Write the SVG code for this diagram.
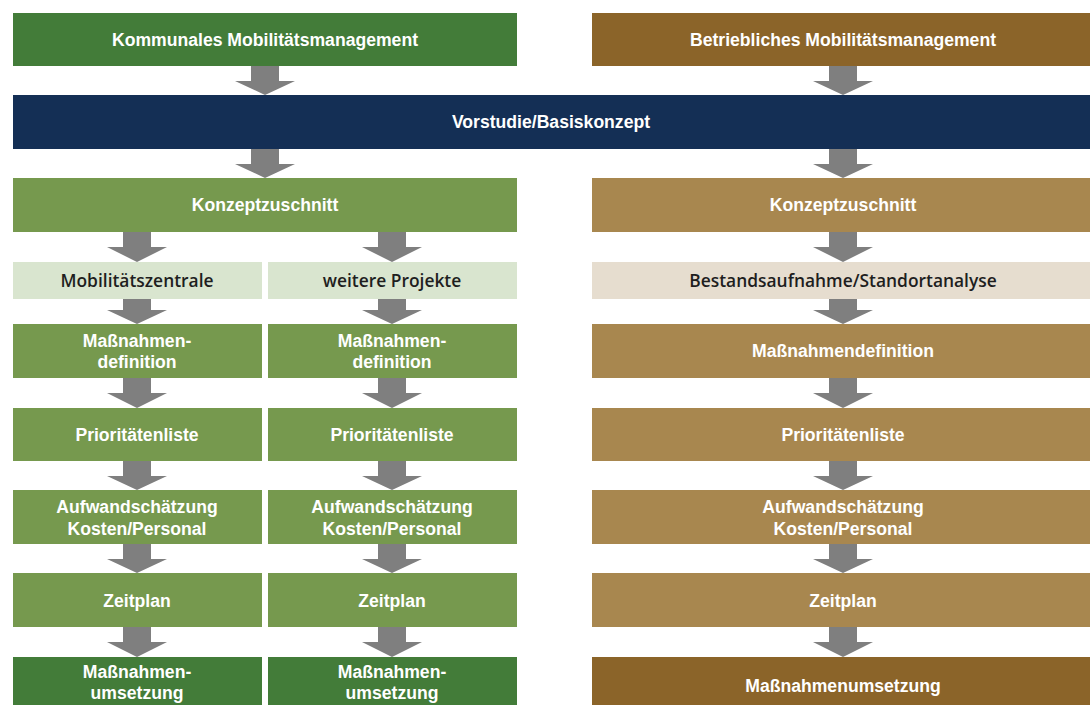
<svg xmlns="http://www.w3.org/2000/svg" width="1090" height="705" viewBox="0 0 1090 705">
<style>
text{font-family:"Liberation Sans","Open Sans",Arial,sans-serif;font-size:17.6px;text-anchor:middle}
.w{fill:#ffffff;font-weight:bold}
.d{fill:#1e1e1e;font-family:"Open Sans","Liberation Sans",Arial,sans-serif;font-weight:600;font-size:17.4px}
.gD{fill:#437c39}
.gM{fill:#76994e}
.gL{fill:#d9e5cf}
.nv{fill:#142f55}
.bD{fill:#8b6429}
.bM{fill:#a8874f}
.bL{fill:#e6ddcf}
.ar{fill:#7f7f7f}
</style>
<rect width="1090" height="705" fill="#ffffff"/>
<g id="connectors">
<path class="ar" d="M251,66h28v15h16l-30,14l-30,-14h16z"/>
<path class="ar" d="M829,66h28v15h16l-30,14l-30,-14h16z"/>
<path class="ar" d="M251,149h28v15h16l-30,14l-30,-14h16z"/>
<path class="ar" d="M829,149h28v15h16l-30,14l-30,-14h16z"/>
<path class="ar" d="M123,232h28v15h16l-30,15l-30,-15h16z"/>
<path class="ar" d="M378,232h28v15h16l-30,15l-30,-15h16z"/>
<path class="ar" d="M829,232h28v15h16l-30,15l-30,-15h16z"/>
<path class="ar" d="M123,299h28v11h16l-30,14l-30,-14h16z"/>
<path class="ar" d="M378,299h28v11h16l-30,14l-30,-14h16z"/>
<path class="ar" d="M829,299h28v11h16l-30,14l-30,-14h16z"/>
<path class="ar" d="M123,378h28v15h16l-30,15l-30,-15h16z"/>
<path class="ar" d="M378,378h28v15h16l-30,15l-30,-15h16z"/>
<path class="ar" d="M829,378h28v15h16l-30,15l-30,-15h16z"/>
<path class="ar" d="M123,461h28v15h16l-30,14l-30,-14h16z"/>
<path class="ar" d="M378,461h28v15h16l-30,14l-30,-14h16z"/>
<path class="ar" d="M829,461h28v15h16l-30,14l-30,-14h16z"/>
<path class="ar" d="M123,544h28v15h16l-30,14l-30,-14h16z"/>
<path class="ar" d="M378,544h28v15h16l-30,14l-30,-14h16z"/>
<path class="ar" d="M829,544h28v15h16l-30,14l-30,-14h16z"/>
<path class="ar" d="M123,627h28v15h16l-30,15l-30,-15h16z"/>
<path class="ar" d="M378,627h28v15h16l-30,15l-30,-15h16z"/>
<path class="ar" d="M829,627h28v15h16l-30,15l-30,-15h16z"/>
</g>
<g id="kommunal"><rect class="gD" x="13" y="13" width="504" height="53"/><text class="w" x="265" y="46">Kommunales Mobilitätsmanagement</text></g>
<g id="betrieblich"><rect class="bD" x="592" y="13" width="498" height="53"/><text class="w" x="843" y="46">Betriebliches Mobilitätsmanagement</text></g>
<g id="vorstudie"><rect class="nv" x="13" y="95" width="1077" height="54"/><text class="w" x="551" y="128">Vorstudie/Basiskonzept</text></g>
<g id="konzept-k"><rect class="gM" x="13" y="178" width="504" height="54"/><text class="w" x="265" y="211">Konzeptzuschnitt</text></g>
<g id="konzept-b"><rect class="bM" x="592" y="178" width="498" height="54"/><text class="w" x="843" y="211">Konzeptzuschnitt</text></g>
<g id="mobzentrale"><rect class="gL" x="13" y="262" width="249" height="37"/><text class="d" x="137" y="287">Mobilitätszentrale</text></g>
<g id="weitere"><rect class="gL" x="268" y="262" width="249" height="37"/><text class="d" x="392" y="287">weitere Projekte</text></g>
<g id="bestand"><rect class="bL" x="592" y="262" width="498" height="37"/><text class="d" x="843" y="287">Bestandsaufnahme/Standortanalyse</text></g>
<g id="def-1"><rect class="gM" x="13" y="324" width="249" height="54"/><text class="w" x="137" y="347">Maßnahmen-</text><text class="w" x="137" y="368">definition</text></g>
<g id="def-2"><rect class="gM" x="268" y="324" width="249" height="54"/><text class="w" x="392" y="347">Maßnahmen-</text><text class="w" x="392" y="368">definition</text></g>
<g id="def-b"><rect class="bM" x="592" y="324" width="498" height="54"/><text class="w" x="843" y="357">Maßnahmendefinition</text></g>
<g id="prio-1"><rect class="gM" x="13" y="408" width="249" height="53"/><text class="w" x="137" y="441">Prioritätenliste</text></g>
<g id="prio-2"><rect class="gM" x="268" y="408" width="249" height="53"/><text class="w" x="392" y="441">Prioritätenliste</text></g>
<g id="prio-b"><rect class="bM" x="592" y="408" width="498" height="53"/><text class="w" x="843" y="441">Prioritätenliste</text></g>
<g id="aufw-1"><rect class="gM" x="13" y="490" width="249" height="54"/><text class="w" x="137" y="513">Aufwandschätzung</text><text class="w" x="137" y="535">Kosten/Personal</text></g>
<g id="aufw-2"><rect class="gM" x="268" y="490" width="249" height="54"/><text class="w" x="392" y="513">Aufwandschätzung</text><text class="w" x="392" y="535">Kosten/Personal</text></g>
<g id="aufw-b"><rect class="bM" x="592" y="490" width="498" height="54"/><text class="w" x="843" y="513">Aufwandschätzung</text><text class="w" x="843" y="535">Kosten/Personal</text></g>
<g id="zeit-1"><rect class="gM" x="13" y="573" width="249" height="54"/><text class="w" x="137" y="607">Zeitplan</text></g>
<g id="zeit-2"><rect class="gM" x="268" y="573" width="249" height="54"/><text class="w" x="392" y="607">Zeitplan</text></g>
<g id="zeit-b"><rect class="bM" x="592" y="573" width="498" height="54"/><text class="w" x="843" y="607">Zeitplan</text></g>
<g id="ums-1"><rect class="gD" x="13" y="657" width="249" height="60"/><text class="w" x="137" y="678">Maßnahmen-</text><text class="w" x="137" y="699">umsetzung</text></g>
<g id="ums-2"><rect class="gD" x="268" y="657" width="249" height="60"/><text class="w" x="392" y="678">Maßnahmen-</text><text class="w" x="392" y="699">umsetzung</text></g>
<g id="ums-b"><rect class="bD" x="592" y="657" width="498" height="60"/><text class="w" x="843" y="692">Maßnahmenumsetzung</text></g>
</svg>
